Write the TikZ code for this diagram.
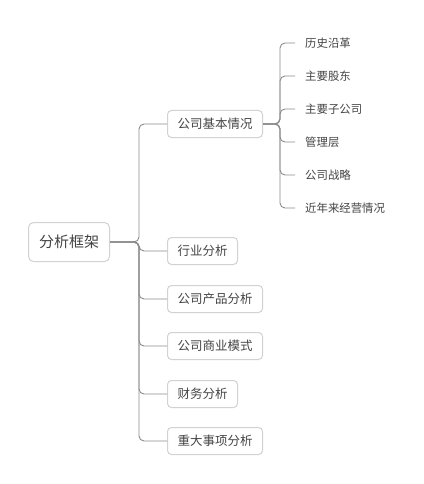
\documentclass[tikz,border=0pt]{standalone}
\usepackage{fontspec}
\setmainfont{Noto Sans CJK SC}
\definecolor{txt}{HTML}{444444}
\definecolor{ln}{HTML}{8C8C8C}
\definecolor{bx}{HTML}{D2D2D2}
\begin{document}
\begin{tikzpicture}[x=1pt,y=-1pt,
  rootbox/.style={draw=bx,line width=1pt,rounded corners=5pt,fill=white,text=txt,
    font=\fontsize{15}{15}\selectfont,minimum height=39pt,inner xsep=10.5pt,anchor=west},
  topicbox/.style={draw=bx,line width=1pt,rounded corners=4pt,fill=white,text=txt,
    font=\fontsize{12.5}{12.5}\selectfont,minimum height=27pt,inner xsep=10pt,anchor=west},
  subtopic/.style={text=txt,font=\fontsize{11.4}{11.4}\selectfont,inner xsep=10pt,anchor=west},
  conn/.style={draw=ln,line width=0.9pt,rounded corners=5pt}]
\useasboundingbox (0,0) rectangle (423,484);
\fill[white] (0,0) rectangle (423,484);

\node[rootbox] (root) at (28,242) {分析框架};

\node[topicbox] (c1) at (167,124) {公司基本情况};
\node[topicbox] (c2) at (167,251) {行业分析};
\node[topicbox] (c3) at (167,299) {公司产品分析};
\node[topicbox] (c4) at (167,346) {公司商业模式};
\node[topicbox] (c5) at (167,394) {财务分析};
\node[topicbox] (c6) at (167,441) {重大事项分析};

\node[subtopic] (s1) at (295,43) {历史沿革};
\node[subtopic] (s2) at (295,76) {主要股东};
\node[subtopic] (s3) at (295,109) {主要子公司};
\node[subtopic] (s4) at (295,142) {管理层};
\node[subtopic] (s5) at (295,175) {公司战略};
\node[subtopic] (s6) at (295,208) {近年来经营情况};

\coordinate (j0) at (139,242);
\coordinate (j1) at (280,124);

\foreach \c in {c1,c2,c3,c4,c5,c6}
  \draw[conn] (root.east) -- (j0) |- (\c.west);
\foreach \s in {s1,s2,s3,s4,s5,s6}
  \draw[conn] (c1.east) -- (j1) |- (\s.west);
\end{tikzpicture}
\end{document}
